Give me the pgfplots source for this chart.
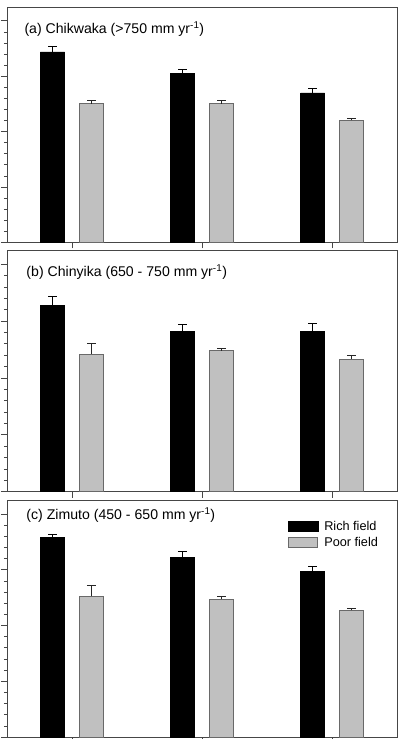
\documentclass[border=0pt]{standalone}
\usepackage{pgfplots}
\pgfplotsset{compat=1.18}
\usepackage{pgfplotstable}
\usepackage{fontspec}
\setmainfont{Liberation Sans}
\definecolor{barGray}{RGB}{192,192,192}
\definecolor{edgeGray}{RGB}{105,105,105}
\definecolor{frameGray}{RGB}{70,70,70}

% x  y  err
\pgfplotstableread{
x y e
0 3.44 0.10
1 3.05 0.07
2 2.70 0.08
}\richA
\pgfplotstableread{
x y e
0 2.50 0.07
1 2.50 0.06
2 2.20 0.04
}\poorA
\pgfplotstableread{
x y e
0 3.27 0.16
1 2.82 0.12
2 2.82 0.13
}\richB
\pgfplotstableread{
x y e
0 2.42 0.18
1 2.48 0.04
2 2.33 0.07
}\poorB
\pgfplotstableread{
x y e
0 3.58 0.06
1 3.22 0.10
2 2.97 0.08
}\richC
\pgfplotstableread{
x y e
0 2.52 0.19
1 2.47 0.05
2 2.27 0.04
}\poorC

\tikzset{ptitle/.style={anchor=west, inner sep=0pt, font=\fontsize{14.1}{16}\selectfont}}

\pgfplotsset{
  panel/.style={
    scale only axis, width=390pt,
    xmin=-0.5, xmax=2.5, ymin=0, ymax=4.25,
    xtick={0,1,2}, xticklabels={},
    ytick={0,1,2,3,4}, yticklabels={},
    minor y tick num=4,
    xtick pos=bottom, ytick pos=left, tick align=outside,
    major tick length=6pt, minor tick length=3pt,
    axis line style={frameGray, line width=0.9pt},
    every tick/.style={frameGray, line width=0.7pt},
    ybar, bar width=24pt,
    clip=false,
  },
  richbar/.style={fill=black, draw=black, line width=0.6pt, bar shift=-19.5pt,
    error bars/.cd, y dir=plus, y explicit, error mark=|,
    error bar style={black, line width=1pt},
    error mark options={black, line width=1pt, mark size=4.5pt}},
  poorbar/.style={fill=barGray, draw=edgeGray, line width=0.8pt, bar shift=19.5pt,
    error bars/.cd, y dir=plus, y explicit, error mark=|,
    error bar style={black!85, line width=1pt},
    error mark options={black!85, line width=1pt, mark size=4.5pt}},
}

\begin{document}
\begin{tikzpicture}
\useasboundingbox (0,0) rectangle (399pt,-739pt);

% Panel (a)
\begin{axis}[panel, height=235.3pt, at={(7pt,-242.3pt)}, anchor=south west]
\addplot[richbar] table[x=x, y=y, y error=e] {\richA};
\addplot[poorbar] table[x=x, y=y, y error=e] {\poorA};
\node[ptitle] at (rel axis cs:0,1) [xshift=17.3pt, yshift=-22pt] {(a) Chikwaka (>750 mm yr\textsuperscript{-1})};
\end{axis}

% Panel (b)
\begin{axis}[panel, height=241.7pt, at={(7pt,-491.7pt)}, anchor=south west]
\addplot[richbar] table[x=x, y=y, y error=e] {\richB};
\addplot[poorbar] table[x=x, y=y, y error=e] {\poorB};
\node[ptitle] at (rel axis cs:0,1) [xshift=19.3pt, yshift=-21.7pt] {(b) Chinyika (650 - 750 mm yr\textsuperscript{-1})};
\end{axis}

% Panel (c)
\begin{axis}[panel, height=237pt, at={(7pt,-737pt)}, anchor=south west,
  legend style={draw=none, fill=none, at={(rel axis cs:0.7197,0.912)}, anchor=north west,
    font=\fontsize{12.7}{15}\selectfont, row sep=5.2pt, inner sep=0pt,
    nodes={inner sep=0pt}},
  legend cell align=left,
  legend image code/.code={\draw[#1, bar shift=0pt] (0pt,-4.65pt) rectangle (29.6pt,4.65pt);},
  legend style={column sep=0pt},
  ]
\addplot[richbar] table[x=x, y=y, y error=e] {\richC};
\addlegendentry{\hspace{6pt}Rich field}
\addplot[poorbar] table[x=x, y=y, y error=e] {\poorC};
\addlegendentry{\hspace{6pt}Poor field}
\node[ptitle] at (rel axis cs:0,1) [xshift=19.3pt, yshift=-15pt] {(c) Zimuto (450 - 650 mm yr\textsuperscript{-1})};
\end{axis}
\end{tikzpicture}
\end{document}
